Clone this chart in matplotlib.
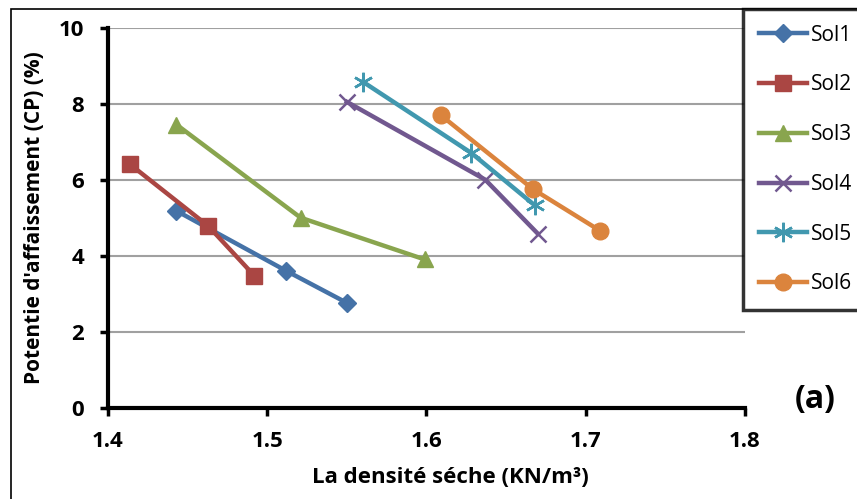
import matplotlib
matplotlib.use("Agg")
import matplotlib.pyplot as plt
from matplotlib.patches import Rectangle

plt.rcParams["font.family"] = ["Open Sans", "DejaVu Sans"]

# data
labels = ["Sol1", "Sol2", "Sol3", "Sol4", "Sol5", "Sol6"]
sol1_x = [1.443, 1.512, 1.550]
sol1_y = [5.18, 3.60, 2.76]
sol2_x = [1.414, 1.463, 1.492]
sol2_y = [6.40, 4.78, 3.47]
sol3_x = [1.443, 1.521, 1.599]
sol3_y = [7.45, 5.00, 3.90]
sol4_x = [1.550, 1.637, 1.670]
sol4_y = [8.05, 6.00, 4.58]
sol5_x = [1.560, 1.628, 1.668]
sol5_y = [8.58, 6.71, 5.33]
sol6_x = [1.609, 1.667, 1.709]
sol6_y = [7.70, 5.75, 4.66]

xs = [sol1_x, sol2_x, sol3_x, sol4_x, sol5_x, sol6_x]
ys = [sol1_y, sol2_y, sol3_y, sol4_y, sol5_y, sol6_y]
colors = ["#4572A7", "#AA4643", "#89A54E", "#71588F", "#4198AF", "#DB843D"]
markers = ["D", "s", "^", "x", (6, 2, 0), "o"]
msizes = [9, 12, 12, 12, 14, 12]

fig = plt.figure(figsize=(8.57, 4.99), dpi=100)
ax = fig.add_axes([0.126, 0.183, 0.743, 0.7615])

for x, y, c, m, ms, lab in zip(xs, ys, colors, markers, msizes, labels):
    ax.plot(x, y, color=c, marker=m, markersize=ms, linewidth=3.2,
            markeredgewidth=1.8 if m == "x" or isinstance(m, tuple) else 1,
            markeredgecolor=c, label=lab)

ax.set_xlim(1.4, 1.8)
ax.set_ylim(0, 10)
ax.set_xticks([1.4, 1.5, 1.6, 1.7, 1.8])
ax.set_yticks([0, 2, 4, 6, 8, 10])
ax.set_xticklabels(["1.4", "1.5", "1.6", "1.7", "1.8"])
ax.yaxis.grid(True, color="#a0a0a0", linewidth=1.5)
ax.set_axisbelow(True)
for s in ("top", "right"):
    ax.spines[s].set_visible(False)
for s in ("left", "bottom"):
    ax.spines[s].set_linewidth(3)
ax.tick_params(axis="both", direction="out", length=6, width=2.5, labelsize=16, pad=11)
for t in ax.get_xticklabels() + ax.get_yticklabels():
    t.set_fontweight("bold")

ax.set_xlabel("La densité séche (KN/m³)", fontsize=16, fontweight="bold", labelpad=5)
ax.xaxis.set_label_coords(0.537, -0.155)
ax.set_ylabel("Potentie d'affaissement (CP) (%)", fontsize=15, fontweight="bold", labelpad=10)

fig.text(0.951, 0.2, "(a)", fontsize=23, fontweight="bold", ha="center", va="center")

# outer chart border (cropped at right and bottom)
fig.patches.append(Rectangle((11 / 857, -0.1), 1.2, 1.082, transform=fig.transFigure,
                             fill=False, edgecolor="black", linewidth=1.2))

leg = fig.legend(loc="upper left", bbox_to_anchor=(743 / 857, 1 - 9 / 499),
                 borderaxespad=0, fontsize=15, handlelength=2.3, handletextpad=0.2,
                 labelspacing=1.38, borderpad=0.75, frameon=True, fancybox=False)
leg.get_frame().set_edgecolor("black")
leg.get_frame().set_linewidth(2.5)

fig.savefig("out.png", dpi=100)
